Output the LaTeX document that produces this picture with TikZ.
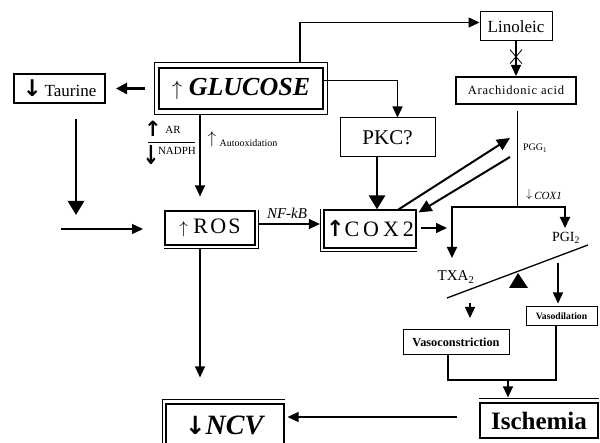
\documentclass[tikz,border=0pt]{standalone}
\usepackage{fontspec}
\setmainfont{Liberation Serif}
\newfontfamily\djv{DejaVu Sans}
\usetikzlibrary{arrows.meta,calc}
\newcommand{\hup}[1]{{\fontsize{#1}{#1}\selectfont\djv\bfseries ↑}}
\newcommand{\hdn}[1]{{\fontsize{#1}{#1}\selectfont\djv\bfseries ↓}}
\newcommand{\tup}[1]{{\fontsize{#1}{#1}\selectfont$\uparrow$}}
\newcommand{\tdn}[1]{{\fontsize{#1}{#1}\selectfont$\downarrow$}}
\begin{document}
\begin{tikzpicture}[x=1pt,y=-1pt,
  box/.style={draw,line width=1pt,inner sep=0pt,align=center},
  a1/.style={-{Triangle[length=11pt,width=10pt]},line width=1.4pt},
  a2/.style={-{Triangle[length=14pt,width=16pt]},line width=2.7pt},
  fs/.style={font=\fontsize{#1}{#1}\selectfont}
]
\clip (0,0) rectangle (600,443);
\useasboundingbox (0,0) rectangle (600,443);

% boxes
\node[box,line width=2pt,minimum width=91pt,minimum height=29pt,fs=17] (taur) at (59.5,88.5) {\hdn{23}\,Taurine};
\node[box,line width=1.6pt,minimum width=164pt,minimum height=41pt,fs=26] (gluc) at (241,88.5) {\tup{21} \textbf{\textit{GLUCOSE}}};
\draw[line width=0.8pt] ([shift={(-4pt,4.5pt)}]gluc.north west) rectangle ([shift={(4pt,-4.5pt)}]gluc.south east);
\node[box,minimum width=72pt,minimum height=29pt,fs=17] (lin) at (516,26.5) {Linoleic};
\node[box,line width=2pt,minimum width=120pt,minimum height=27pt,fs=12.5] (arach) at (516,90.5) {\addfontfeature{LetterSpace=6}Arachidonic acid};
\node[box,minimum width=95pt,minimum height=39pt,fs=21] (pkc) at (387.5,137.5) {PKC?};
\node[box,line width=1.2pt,minimum width=90pt,minimum height=34pt,fs=22] (ros) at (210,228) {\tup{19} \addfontfeature{LetterSpace=10}ROS};
\draw[line width=1pt] ([yshift=-2.5pt]ros.south west) -| ([xshift=2.5pt]ros.north east);
\node[box,line width=1.2pt,minimum width=92pt,minimum height=38pt,fs=22] (cox) at (370,229) {\hup{22}\addfontfeature{LetterSpace=18}COX2};
\draw[line width=1pt] ([xshift=-3pt]cox.north west) |- ([yshift=-3pt]cox.south east);
\node[box,minimum width=71pt,minimum height=19pt,fs=9.7] (vdil) at (561.5,316.5) {\bfseries Vasodilation};
\node[box,minimum width=106pt,minimum height=25pt,fs=12.3] (vcon) at (456,342.5) {\bfseries Vasoconstriction};
\node[box,line width=1.2pt,minimum width=118pt,minimum height=35pt,fs=25] (isch) at (539,420.5) {\bfseries Ischemia};
\draw[line width=0.8pt] ([yshift=3.5pt]isch.north west) -- ([yshift=3.5pt]isch.north east);
\node[box,line width=1.2pt,minimum width=118pt,minimum height=42pt,fs=28] (ncv) at (225,425) {\hdn{25}\textbf{\textit{NCV}}};
\draw[line width=1pt] ([xshift=-3pt]ncv.south west) |- ([yshift=3.5pt]ncv.north east);

% labels
\node[inner sep=0pt] (arup) at (153,129) {\hup{21}};
\node[fs=11] (ar) at (173,130) {AR};
\node[inner sep=0pt] (nadn) at (151,155) {\scalebox{1}[1.3]{\hdn{20}}};
\node[fs=11] (nadph) at (177,151) {NADPH};
\coordinate (fr1) at (148,142); \coordinate (fr2) at (195,142);
\draw[line width=0.8pt] (fr1) -- (fr2);
\node[inner sep=0pt] (auup) at (212,139) {\tup{16}};
\node[fs=10] (auto) at (248.5,143) {Autooxidation};
\node[fs=15,font=\itshape\fontsize{15}{15}\selectfont] (nfkb) at (287,213) {NF-kB};
\node[fs=10] (pgg) at (535,148) {PGG$_{\mathrm{1}}$};
\node[inner sep=0pt] (coxdn) at (529,195) {\tdn{13}};
\node[fs=11,font=\itshape\fontsize{11}{11}\selectfont] (cox1) at (548,196) {COX1};
\node[fs=15] (txa) at (456,277) {TXA$_{\mathrm{2}}$};
\node[fs=14] (pgi) at (566,238) {PGI$_{\mathrm{2}}$};

% helper coordinates
\coordinate (x300) at (300,0);
\coordinate (x76) at (76,0);
\coordinate (x200) at (200,0);
\coordinate (x377) at (377,0);
\coordinate (x517) at (517,0);
\coordinate (x448) at (448,0);
\coordinate (x556) at (556,0);
\coordinate (x508) at (508,0);
\coordinate (my) at (0,380);
\coordinate (tdnc) at (76,215);
\coordinate (h1) at (61,229);
\coordinate (h2) at (143,229);
\coordinate (pg1) at (510,138);
\coordinate (pg2) at (510,157);
\coordinate (brm) at (517,207);
\coordinate (txt) at (452,258);
\coordinate (pgt) at (565,228);
\coordinate (cx2) at (447,228);
\coordinate (s1) at (447,298);
\coordinate (s2) at (588,245);
\coordinate (f1) at (518,273);
\coordinate (f2) at (509,288);
\coordinate (f3) at (528,288);
\coordinate (pg3) at (558,263);
\coordinate (v1) at (470,303);
\coordinate (v2) at (470,318);
\coordinate (il) at (457,417);
\coordinate (xc) at ($(lin.south)!0.44!(arach.north)$);

% connectors
\draw[a1,line width=1.5pt,shorten <=4.5pt] (gluc.north -| x300) |- ([yshift=4pt]lin.west);
\draw[a1,line width=1.2pt] (lin.south) -- (arach.north);
\draw[line width=0.8pt] (xc) +(-6,-7) -- +(6,7) (xc) +(-6,7) -- +(6,-7);
\draw[-{Triangle[length=11pt,width=11pt]},line width=2.7pt,shorten <=13pt,shorten >=10pt] (gluc.west) -- (taur.east);
\draw[a2,shorten <=15pt] (taur.south -| x76) -- (tdnc);
\draw[a1,line width=1.3pt] (h1) -- (h2);
\draw[a1,line width=1.5pt,shorten <=4.5pt,shorten >=14pt] (gluc.south -| x200) -- (ros.north -| x200);
\draw[a1,line width=1.5pt,shorten <=2.5pt,shorten >=26pt] (ros.south -| x200) -- (ncv.north -| x200);
\draw[a1,line width=1.3pt,shorten <=2.5pt,shorten >=3.5pt] ([yshift=4pt]ros.east) -- ([yshift=4pt]ros.east -| cox.west);
\draw[a1,line width=1.3pt] ([yshift=8pt]gluc.east) -| ([xshift=10pt]pkc.north);
\draw[a2] (pkc.south -| x377) -- (cox.north -| x377);
\draw[-{Triangle[length=13pt,width=12pt]},line width=2pt] ([xshift=-18pt]cox.north east) -- (pg1);
\draw[-{Triangle[length=13pt,width=12pt]},line width=2pt] (pg2) -- ([shift={(2pt,-3pt)}]cox.north east);
\draw[line width=1pt,shorten <=6pt] (arach.south -| x517) -- (brm);
\draw[a1,line width=2pt] (brm) -| (txt);
\draw[a1,line width=2pt] (brm) -| (pgt);
\draw[a1,line width=1.4pt,shorten <=4pt] (cox.east |- cx2) -- (cx2);
\draw[line width=1.3pt] (s1) -- (s2);
\fill (f1) -- (f2) -- (f3) -- cycle;
\draw[a1,line width=1.3pt,shorten >=3pt] (pg3) -- (pg3 |- vdil.north);
\draw[a1,line width=1.3pt] (v1) -- (v2);
\draw[line width=2.6pt] (vcon.south -| x448) |- (my -| x556) -- (vdil.south -| x556);
\draw[a1,line width=1.5pt,shorten >=5pt] (my -| x508) -- (isch.north -| x508);
\draw[a1,line width=1.5pt,shorten >=3pt] (il) -- (il -| ncv.east);
\end{tikzpicture}
\end{document}
